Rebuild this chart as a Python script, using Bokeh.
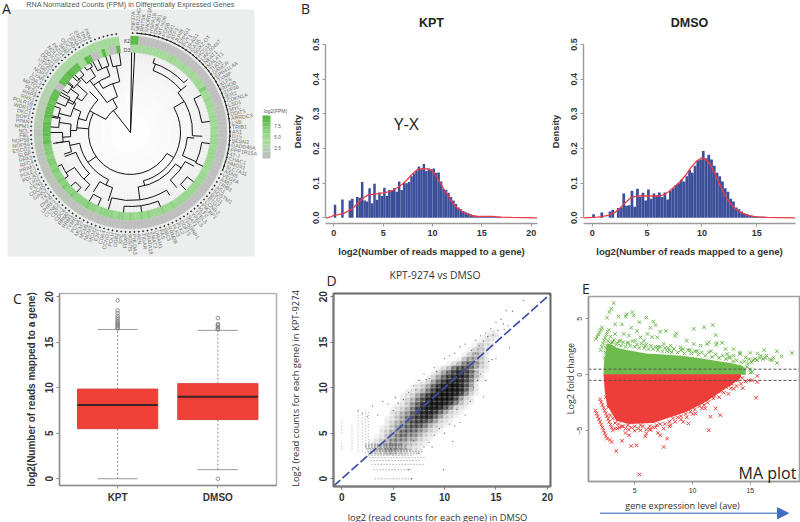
import math
from bokeh.plotting import figure
from bokeh.layouts import column, row
from bokeh.models import Label, Range1d, FixedTicker, Arrow, NormalHead, LinearColorMapper, ColumnDataSource
from bokeh.core.properties import value
from bokeh.embed import file_html
from bokeh.resources import INLINE

K2_X10 = [82,80,16,15,17,16,15,18,16,17,15,16,18,17,15,16,17,16,15,18,
16,17,15,16,18,16,15,17,16,15,18,17,16,15,17,16,18,15,16,17,
15,16,17,18,16,15,17,16,18,15,16,17,15,16,18,17,16,15,17,16,
18,16,15,17,18,16,20,18,19,17,20,18,19,21,18,20,19,21,20,18,
21,20,22,19,21,23,20,22,21,23,22,20,24,22,23,21,24,23,22,25,
23,24,26,24,25,27,26,25,28,27,29,30,28,31,30,32,31,33,32,34,
36,35,38,36,40,38,41,39,42,40,44,42,45,43,42,44,46,43,45,44]
D3_X10 = [44,42,45,46,43,47,44,46,48,45,47,49,46,44,48,50,47,45,49,46,
48,50,47,65,48,46,49,47,50,48,46,49,51,48,50,47,52,49,51,48,
50,52,49,51,53,50,48,52,50,53,51,49,52,50,54,51,53,50,52,55,
51,53,56,52,54,51,55,53,57,54,52,56,54,58,55,53,57,55,59,56,
54,58,56,60,57,55,59,57,61,58,56,60,58,62,59,57,61,59,63,60,
58,62,60,64,72,70,74,72,73,71,70,72,74,71,73,70,72,71,72,14,
15,74,76,74,78,76,75,72,46,44,78,75,13,14,44,78,44,14,13,78]
GENE_LABELS = """ZNF37A MIR22HG RN7SK SNORD3A HSPA1B DNAJB1 MT-ND6 FOSB EGR1 ATF3 JUNB SNHG1 PVT1 19-AS1 GAS5 SOX2-OT HCG18 LINC00467 NEAT1 MALAT1
TUG1 DANCR EPB41L4A TXNIP KLF6 RHOB ZFP36 IER2 CDKN1A LSD1 MYC DDIT3 ARRDC3 LSB TRIB1 AS1 D15 SESN2 GADD45A PPP1R15A 47-J CHAC1 HMOX1 SLC7A11 ASNS VEGFA A487
TRIB3 AS1 SQSTM1 BTG1 BTG2 CCNG2 PIK3IP1 KLF2 YPEL3 YPEL5 SAT1 TP53INP1 GDF15 PLK2 PLK3 RRM2B BBC3 FAS DRAM1 ZMAT3 SPATA18 TIGAR AEN PHLDA3 SUSD6 FDXR XPC DDB2 POLH
CCND1 CDK4 E2F1 MCM2 MCM3 MCM5 MCM7 PCNA TYMS RRM1 RRM2 CDC6 CDT1 CCNE2 UHRF1 DHFR TK1 GINS2 CDC45 FEN1 LIG1 POLA1 POLE2 PRIM1 RFC4 RPA3 SLBP ESCO2
NOP56 NOP58 FBL NCL NPM1 PPAN BOP1 DKC1 WDR12 POLR1B RRS1 RRP9 PES1 MRTO4 GNL3 LYAR NOP2 TSR1 UTP20 DDX21 DDX10 NOLC1 PA2G4 SRM ODC1 CAD LDHA ENO1 TPI1 PKM""".split()
LEGEND_LEVELS = [8.2,7.6,7.0,6.4,5.8,5.2,4.6,4.0,3.4,2.8,2.2,1.6]
RING_PALETTE = ["#bfbfbf","#bcc4ba","#b8ccb4","#b2d4ac","#aad8a2","#a4d99b","#9cd792","#90d285","#80cb73","#70c461","#63bd52","#5cb946"]
TREE_NODES = [(0,[(0.8,80),(3,80),(322,28)]),(28,[(298,42),(332,38)]),(38,[(322,60),(340,52)]),
(52,[(328,60),(348,68)]),(68,[(345,80),(352,80)]),(60,[(322,66),(340,70)]),(70,[(332,80),(336,80),(342,80)]),
(66,[(318,74),(328,76)]),(76,[(325,80),(330,80)]),(74,[(314,80),(321,80)]),(46,[(285,54),(315,58)]),
(58,[(303,64),(312,72)]),(72,[(308,80),(316,80)]),(64,[(296,70),(306,74)]),(74,[(302,80),(309,80)]),(70,[(292,80),(300,80)]),
(54,[(272,60),(293,62)]),(62,[(285,74),(298,80)]),(74,[(281,80),(289,80)]),(60,[(266,68),(278,72)]),(72,[(274,80),(282,80)]),(68,[(262,78),(270,80)]),
(42,[(120,50),(235,52),(275,54),(298,46)]),(52,[(205,58),(258,62)]),(62,[(252,70),(262,75)]),(58,[(225,66),(250,70)]),(66,[(218,74),(238,76)]),
(76,[(235,80),(245,80)]),(74,[(222,80),(228,80)]),(58,[(198,72),(212,70)]),(72,[(204,80),(211,80)]),
(50,[(60,62),(165,55)]),(55,[(125,62),(172,68)]),(68,[(148,74),(196,80)]),(74,[(172,80),(185,80),(158,80)]),(62,[(118,72),(140,72)]),(72,[(128,80),(136,80)]),
(62,[(50,66),(93,72)]),(72,[(62,80),(82,80)]),(66,[(20,73),(50,73)]),(73,[(18,78),(47,78)]),(57,[(95,64),(114,72)]),(72,[(98,80),(115,80)])]

KPT_DENSITY = [.038,0,0,.053,0,0,.05,.055,0,.06,.058,.103,.05,.047,.085,.042,.098,.052,.073,.063,.087,.063,.08,.08,.085,.075,.105,.08,.102,.1,.103,.12,.128,.135,.148,.14,.155,.135,.142,.14,.142,.13,.131,.105,.083,.08,.072,.06,.05,.04,.03,.025,.02,.016,.013,.01,.008,.006,.005,.004,.004,.004,.003,.003,.003,.003,.002,.002,.001,.001,.001,.0005]
DMSO_DENSITY = [.01,0,0,.015,0,0,.018,.023,0,.028,.03,.07,.035,.036,.078,.032,.084,.06,.072,.05,.082,.055,.07,.065,.073,.06,.073,.053,.077,.085,.095,.1,.11,.105,.12,.138,.13,.15,.165,.168,.193,.172,.182,.168,.15,.13,.12,.105,.085,.075,.055,.047,.03,.025,.018,.013,.01,.008,.006,.005,.004,.003,.003,.002,.002,.001,.001,.001,.0005]
KPT_CURVE_X = [-.8,-.3,0,.5,1,1.5,2,2.5,3,3.5,4,4.5,5,5.5,6,6.5,7,7.5,8,8.5,9,9.5,10,10.5,11,11.5,12,12.5,13,13.5,14,14.5,15,16,17,18,20.6]
KPT_CURVE_Y = [0,.003,.007,.009,.013,.02,.03,.044,.058,.066,.068,.07,.072,.075,.079,.088,.098,.112,.128,.14,.142,.141,.135,.115,.09,.067,.045,.028,.018,.011,.006,.004,.004,.004,.002,.001,0]
DMSO_CURVE_X = [-.8,0,.5,1,1.5,2,2.5,3,3.5,4,4.5,5,5.5,6,6.5,7,7.5,8,8.5,9,9.5,10,10.5,11,11.5,12,12.5,13,13.5,14,14.5,15,16,18.5]
DMSO_CURVE_Y = [0,.001,.002,.004,.008,.014,.027,.043,.058,.062,.063,.063,.063,.062,.066,.076,.09,.104,.122,.145,.163,.173,.165,.14,.105,.07,.045,.027,.016,.009,.005,.003,.001,0]

BOX_POS = [1,2]
BOX_NAMES = {1:"KPT",2:"DMSO"}
BOX_Q1 = [5.5,6.5]; BOX_MED = [8.1,9.0]; BOX_Q3 = [9.85,10.45]; BOX_LOW = [0,1]; BOX_HIGH = [16.4,16.3]
OUT_X = [1]*13+[2]*7
OUT_Y = [16.5,16.6,16.75,16.9,17.0,17.15,17.3,17.5,17.7,17.9,18.2,18.5,19.6,0,16.4,16.5,16.7,16.9,17.0,17.65]

DENSITY_ROWS = [(16,14.5,"11"),(15.5,14,"111"),(15,13.5,"111"),(14.5,13,"1211"),(14,12.5,"1221"),(13.5,12,"12321"),(13,11.5,"134321"),(12.5,10.5,"12355421"),(12,9.5,"1236765211"),(11.5,9,"1246787531"),(11,8.5,"12467887521"),(10.5,7.5,"112468998641"),(10,7,"1124689998631"),(9.5,6.5,"11235799998521"),(9,6,"11246899997421"),(8.5,6,"12357999986311"),(8,5.5,"11246899975211"),(7.5,5,"11235788864211"),(7,5,"1234678864211"),(6.5,4.5,"1123567764211"),(6,4.5,"123456653211"),(5.5,4,"112345543211"),(5,4,"12345443211"),(4.5,3.5,"11234433211"),(4,3,"11234332211"),(3.5,3,"1223332211"),(3,3,"1223322111")]
ROW_Y = [0,1,1.58,2,2.32,2.58,2.81,3,3.17,3.32,3.46,3.58,3.7,3.81]
ROW_X0 = [3.2,3.1,2.9,2.8,2.7,2.6,2.6,2.5,2.5,2.4,2.3,2.3,2.3,2.3]
ROW_X1 = [6.8,6.8,8,7.6,8.2,7,7.5,8,6.7,6.5,6.2,6.2,6,6]
COL_X = [0,0,1,1.58,2,2.32,2.58]
COL_Y0 = [3.2,5,3.2,3,3,2.8,2.6]
COL_Y1 = [4.2,6.4,6.2,7.5,7.2,7.5,7.5]
SPARSE_X = [4,5,5.5,6,6.5,7,7.2,7.5,8,8.2,8.5,9,9.2,10,10.5,11,11.5,13,13.5,14,14.5,15,15.5,16,16.6,15.7,16.3,15,14.3,14,13.8,13.5,12.8,12.5,12,11.5,11,10.5,10,9.9,9.5,9,8.5,8,7.5,7,10.8,6.8,6.5,3,3.5,2.5,4.5,5.2,2,1.6,8.8,11.2,12.9,13.2,14.6,13,12,17.7,14.2,14.7,15.2,15.8,16.2,13.4,13.8,12.6]
SPARSE_Y = [8.5,7.5,8.3,8.7,9.5,10.2,9.8,10.8,11.5,10.9,11,12.2,11.8,13.2,13.5,13.8,14.5,15.2,15.7,16,16.5,17.2,17.5,18.5,18.4,17,14.4,13.2,12.9,10.8,9,11.5,10,8.5,7,6.2,5.8,6,5,1,5.5,4.8,4,3.5,2.8,4.2,4.1,0,1,8,7,6.8,8.2,8.9,7.2,7.5,3.5,7.6,11.8,10.8,13.1,13.8,14.8,19.6,15.6,15.8,16.3,16.4,16.8,14.6,15.1,14.1]
IDENTITY_X = [-.8,20.3]

GREEN_X = [3.18,2.98,2.8,2.6,3.6,3.3,3.9,4.2,4.3,4.8,4.9,5.4,4.7,5.2,6,6.6,6.8,6.35,7.2,7.7,8.6,8.5,10.1,11,11.75,12,11.4,12.1,12.55,16.2,17.3,17.7,18.6,17,16.4,15.9,15.6,15,14.1,15.2,14.9,14.6,15.6,16.1,16.7,17.3,15.15,15,14.35,13.55,13,10.7,10.1,9.5,8.95,8.1,7.5,6.95,6.5,6.1,5.8,5.5,5.05,4.5,4.05,3.75,3.3,11.25,12.05,12.85,13.55,14.1,1.65,1.75,1.85,1.95,2.05,2.15,2.05,2.15,2.25,2.35,2.45,2.55,2.65,2.75,2.45,2.5,2.9,3.1,3.5,4.4,5.9,7,7.9,9.2,9.8,10.4,11.6,13.2,
3,3.2,3.4,3.6,3.8,4,4.2,4.4,4.6,4.8,5,5.2,5.4,5.6,5.8,6,6.2,6.4,6.6,6.8,7,7.2,7.4,7.6,7.8,8,8.2,8.4,8.7,9,9.3,9.6,9.9,10.2,10.5,10.8,11.1,11.4,11.7,12,12.3,12.6,12.9,13.2,13.5,13.8,14.2,14.5,14.8,15.1,15.4,15.8,16.3,16.9,14.7,15,2.4,2.5,2.6,2.7]
GREEN_Y = [6.4,5.9,5.6,5.1,5.2,4.5,4.5,5.2,5.4,5.6,5.3,4.7,4.2,3.9,5.1,4.75,4.45,4.2,3.85,3.9,3.7,3.45,4.1,4.25,4.45,3.55,2.9,2.85,2.85,2.2,2.1,1.65,1.95,1.55,1.7,1.7,1.9,1.95,1.85,1.3,1.4,1.55,1.3,1.4,1.35,1.05,.25,.5,.55,1.7,1.85,2.6,2.75,3.05,2.45,2.6,2.75,3.35,3.35,3.65,3.05,3.35,3.05,3.5,3.65,3.05,3.65,2.75,2.65,2.3,2.3,2,3.2,3.4,3.6,3.8,4,4.2,2.2,2.5,2.8,3.05,3.3,3.6,3.85,4,2,2.4,3.4,2.9,2.8,2.9,2.6,2.5,2.4,2.3,2.2,2.1,2.1,1.6,
2.9,3.1,2.7,3,2.6,2.9,2.5,2.8,2.6,3,2.5,2.7,2.4,2.8,2.4,2.7,2.3,2.6,2.3,2.5,2.2,2.5,2.1,2.4,2.1,2.2,2,2.3,2,2.2,1.9,2.2,1.9,2.1,1.8,2,1.7,2,1.6,1.8,1.5,1.7,1.4,1.5,1.2,1.3,1.1,1.2,1,1.1,1.4,1.5,1.5,1.3,.7,.2,1.5,1,2.6,3]
RED_X = [5.4,3.4,7.5,11.4,15.5,15.6,15.6,15.15,14.85,14.35,13.55,13.1,12.4,12,11.55,11.1,10.25,9.65,8.1,7.8,7.2,6,5.5,5.15,4.7,4.5,3.9,3,1.6,1.7,1.8,1.9,2,2.1,2.2,2.3,2.4,2.5,2.6,2,2.1,2.2,2.3,2.4,2.5,2.6,2.7,2.8,2.9,3,3.1,3.3,3.5,4,4.5,5,5.5,6.4,6.8,7.5,8.5,9,9.5,10,10.8,11.3,11.8,12.3,12.7,13.3,13.8,14.2,14.6,2.85,3.7,4.2,5.9,6.3,7,8,9.2,
2.5,2.7,2.9,3.1,3.3,3.6,3.9,4.2,4.4,4.7,5,5.3,5.7,6,6.3,6.6,6.9,7.2,7.6,8,8.3,8.7,9,9.4,9.8,10.2,10.6,11,11.4,11.9,12.4,12.9,13.4,13.9,14.3]
RED_Y = [-8.9,-6.8,-6.45,-4.95,-2.05,-.65,-.1,-.5,-.5,-1.2,-1.25,-1.7,-3.6,-3,-3.75,-3,-3.45,-4.35,-4.5,-5.7,-5.4,-5.25,-4.95,-6.3,-6.35,-5.4,-5.9,-6,-3.2,-3.45,-3.7,-3.95,-4.2,-4.45,-4.7,-4.95,-5.2,-5.45,-5.7,-2.2,-2.45,-2.7,-2.95,-3.2,-3.45,-3.7,-3.95,-4.2,-4.45,-4.7,-4.95,-4.8,-4.8,-4.6,-4.9,-4.6,-4.5,-4.9,-4.7,-4.8,-4.2,-4,-3.8,-3.5,-3,-2.5,-2.1,-2,-1.6,-1.2,-1,-.8,-.6,-5.8,-4.7,-5.2,-5.5,-4.9,-5.2,-4.6,-4.2,
-2,-2.9,-3.6,-3.9,-4.3,-4.4,-4.6,-4.8,-4.5,-4.7,-5,-4.8,-4.6,-4.9,-4.6,-4.7,-4.5,-4.4,-4.4,-4.2,-3.9,-3.8,-3.7,-3.5,-3.3,-3.1,-2.8,-2.7,-2.2,-1.9,-1.5,-1.1,-.8,-.5,-.3]
GREEN_BAND_X = [2.3,2.35,2.6,3,3.5,4.4,6,7.5,9,10.5,12,13.5,14.3,14.6,14.6,2.3]
GREEN_BAND_Y = [0,1.2,2.8,2.7,2.4,2.2,1.9,1.8,1.7,1.5,1.25,1,.8,.5,0,0]
RED_BAND_X = [2.3,2.4,2.6,3.4,4.5,6.6,9.5,11,12.3,13.4,14.2,14.2,2.3]
RED_BAND_Y = [.05,-1.4,-2.7,-4.1,-4.4,-4.3,-3.3,-2.5,-1.6,-.9,-.2,.05,.05]
MA_THRESHOLDS = [.5,-.5]
MA_ARROW_X = [2,18.3]

SANS = "Liberation Sans"; CAL = "Open Sans"

def panel(fl, ft, fr, fb, L, T, R, B, xr, yr):
    sx = (xr[1]-xr[0])/(R-L); sy = (yr[1]-yr[0])/(B-T)
    X = (xr[0]-(L-fl)*sx, xr[1]+(fr-R)*sx); Y = (yr[0]-(fb-B)*sy, yr[1]+(T-ft)*sy)
    p = figure(width=fr-fl, height=fb-ft, x_range=Range1d(*X), y_range=Range1d(*Y), output_backend="svg",
               toolbar_location=None, min_border=0, outline_line_color=None, background_fill_color="white",
               border_fill_color="white", frame_align=False)
    p.xaxis.fixed_location = yr[0]; p.yaxis.fixed_location = xr[0]
    p.xaxis.bounds = xr; p.yaxis.bounds = yr
    p.grid.visible = False
    return p

def box(p, xr, yr, color, width):
    p.quad(left=[xr[0]],right=[xr[1]],bottom=[yr[0]],top=[yr[1]],fill_color=None,line_color=color,line_width=width)

def labeler(p, fl, fb):
    def put(s, x, y, size, font=SANS, style="normal", color="#333333", align="center", angle=0):
        p.add_layout(Label(x=x-fl, y=fb-y, x_units="screen", y_units="screen", text=s, text_font_size=f"{size}px",
                           text_font=font, text_font_style=style, text_color=color, text_align=align,
                           text_baseline="middle", angle=angle, angle_units="rad"))
    return put

def style(p, xt, yt, size=9, bold="bold", line="#9a9a9a"):
    p.xaxis.ticker = FixedTicker(ticks=xt); p.yaxis.ticker = FixedTicker(ticks=yt)
    for ax in (p.xaxis[0], p.yaxis[0]):
        ax.minor_tick_line_color = None; ax.major_tick_in = 0; ax.major_tick_out = 3
        ax.axis_line_color = line; ax.major_tick_line_color = line; ax.axis_line_width = 1.4
        ax.major_label_text_font = SANS; ax.major_label_text_font_size = f"{size}px"
        ax.major_label_text_font_style = bold; ax.major_label_text_color = "#333333"
        ax.major_label_standoff = 3
    p.yaxis.major_label_orientation = "vertical"

def xy(deg, r):
    t = math.radians(90-deg); return r*math.cos(t), r*math.sin(t)

# ---------- A
A = panel(0,0,290,265, 0,0,290,265, (-130,160), (-133,132)); A.axis.visible = False
A.quad(left=[-123],right=[124],top=[123],bottom=[-124],fill_color="#eceeed",line_color=None)
n = len(K2_X10); STEP = 353/n
sp = [xy((i+.5)*STEP,20) for i in range(n)]; sq = [xy((i+.5)*STEP,80) for i in range(n)]
A.segment([a[0] for a in sp],[a[1] for a in sp],[a[0] for a in sq],[a[1] for a in sq],line_color="#dcdcdc",line_width=.5)
for rad, alp in [(79,.25),(70,.25),(60,.25),(50,.25),(40,.3),(30,.3),(20,.3),(10,.3)]:
    A.circle(x=[0],y=[0],radius=[rad],fill_color="white",fill_alpha=alp,line_color=None)
cm = LinearColorMapper(palette=RING_PALETTE, low=1.5, high=8.2)
for vals, r0, r1 in [(D3_X10,80,88),(K2_X10,88,96.5)]:
    src = ColumnDataSource(dict(v=[q/10 for q in vals], s=[math.radians(90-(i+1)*STEP) for i in range(n)], e=[math.radians(90-i*STEP) for i in range(n)]))
    A.annular_wedge(x=0,y=0,inner_radius=r0,outer_radius=r1,start_angle="s",end_angle="e",source=src,
                    fill_color={"field":"v","transform":cm},line_color={"field":"v","transform":cm},line_width=.2)
arc_r,arc_s,arc_e,sx0,sy0,sx1,sy1 = [],[],[],[],[],[],[]
for r,stems in TREE_NODES:
    ang = [s[0] for s in stems]
    if r>0:
        arc_r.append(r); arc_s.append(math.radians(90-max(ang))); arc_e.append(math.radians(90-min(ang)))
    for a,ro in stems:
        x0,y0 = xy(a,r); x1,y1 = xy(a,ro); sx0.append(x0); sy0.append(y0); sx1.append(x1); sy1.append(y1)
A.segment(sx0,sy0,sx1,sy1,line_color="#111111",line_width=1)
A.arc(x=0,y=0,radius=arc_r,start_angle=arc_s,end_angle=arc_e,line_color="#111111",line_width=1)
A.arc(x=[0],y=[0],radius=[99.5],start_angle=[math.radians(90-112)],end_angle=[math.radians(90-4)],line_color="#111111",line_width=1)
rim = [xy((i+.5)*STEP,99.5) for i in range(n)]
A.scatter([a[0] for a in rim],[a[1] for a in rim],size=1.1,color="#333333")
rt = dict(x=[],y=[],t=[],a=[]); lf = dict(x=[],y=[],t=[],a=[])
for i,name in enumerate(GENE_LABELS[:n]):
    d = (i+.5)*STEP; x,y = xy(d,101.5)
    tgt = rt if d<180 else lf
    tgt["x"].append(x); tgt["y"].append(y); tgt["t"].append(name)
    tgt["a"].append(math.radians(90-d) if d<180 else math.radians(270-d))
A.text("x","y",text="t",angle="a",source=ColumnDataSource(rt),text_font_size="5.3px",text_font=value(SANS),text_color="#6e6e6e",text_align="left",text_baseline="middle")
A.text("x","y",text="t",angle="a",source=ColumnDataSource(lf),text_font_size="5.3px",text_font=value(SANS),text_color="#6e6e6e",text_align="right",text_baseline="middle")
A.text([-3.5,-3.5],[92,83],text=["K2","D3"],text_font_size="5px",text_font=value(SANS),text_color="#444444",text_align="center",text_baseline="middle")
lv = len(LEGEND_LEVELS); seg = 43/lv
lsrc = ColumnDataSource(dict(l=[132]*lv,r=[140]*lv,t=[17-i*seg for i in range(lv)],b=[17-(i+1)*seg for i in range(lv)],v=LEGEND_LEVELS))
A.quad(left="l",right="r",top="t",bottom="b",source=lsrc,fill_color={"field":"v","transform":cm},line_color=None)
a = labeler(A,0,265)
a("RNA Normalized Counts (FPM) in Differentially Expressed Genes",130,3.5,7.2,color="#555555")
a("A",6,8,14,font=CAL,color="#222222")
a("log2(FPM)",275,110,5,color="#555555")
for s,yy in [("7.5",125),("5.0",136),("2.5",147)]:
    a(s,277,yy,4.6,color="#555555")

# ---------- B
def hist(fl,fr,L,R,x0,scale,vals,cx,cy,title,ticks,ylab_x):
    xr = ((L-x0)/scale,(R-x0)/scale); yr = (-.0164,.5115)
    p = panel(fl,0,fr,265, L,40,R,223, xr, yr)
    style(p,ticks,[0,.1,.2,.3,.4,.5])
    p.yaxis.bounds = (0,.5)
    p.yaxis.major_label_overrides = {0:"0.0",.1:"0.1",.2:"0.2",.3:"0.3",.4:"0.4",.5:"0.5"}
    p.vbar(x=[i*.25+.125 for i in range(len(vals))],top=vals,width=.25,bottom=0,fill_color="#3b4e99",line_color=None)
    p.line(cx,cy,line_color="#ee3a45",line_width=1.3)
    t = labeler(p,fl,265)
    t(title,(L+R)/2,22,12.5,style="bold",color="#222222")
    t("log2(Number of reads mapped to a gene)",(L+R)/2,251,9.6,style="bold",color="#333333")
    t("Density",ylab_x,131,9.3,style="bold",color="#333333",angle=math.pi/2)
    return p,t
B1,tb = hist(290,540,325,537,333.3,9.87,KPT_DENSITY,KPT_CURVE_X,KPT_CURVE_Y,"KPT",[0,5,10,15,20],297)
tb("B",305,8,14,font=CAL,color="#222222")
tb("Y-X",406,123,17,font=CAL,color="#222222")
B2,_ = hist(540,800,583,795,591.7,10.97,DMSO_DENSITY,DMSO_CURVE_X,DMSO_CURVE_Y,"DMSO",[0,5,10,15],555)

# ---------- C
CX = (.42,2.585); CY = (-.74,20.35)
C = panel(0,265,290,522, 59,293,276,485, CX, CY)
style(C,BOX_POS,[0,5,10,15,20],size=10,line="#8f8f8f")
C.xaxis.major_label_overrides = BOX_NAMES
C.segment(BOX_POS,BOX_Q3,BOX_POS,BOX_HIGH,line_color="#8a8a8a",line_dash="2 2",line_width=1)
C.segment(BOX_POS,BOX_LOW,BOX_POS,BOX_Q1,line_color="#8a8a8a",line_dash="2 2",line_width=1)
C.segment([q-.2 for q in BOX_POS],BOX_HIGH,[q+.2 for q in BOX_POS],BOX_HIGH,line_color="#9a9a9a",line_width=1)
C.segment([q-.2 for q in BOX_POS],BOX_LOW,[q+.2 for q in BOX_POS],BOX_LOW,line_color="#9a9a9a",line_width=1)
C.vbar(x=BOX_POS,width=.8,bottom=BOX_Q1,top=BOX_Q3,fill_color="#ee4037",line_color="#d8453d",line_width=1)
C.segment([q-.4 for q in BOX_POS],BOX_MED,[q+.4 for q in BOX_POS],BOX_MED,line_color="#3a2626",line_width=2)
C.scatter(OUT_X,OUT_Y,marker="circle",size=3.6,fill_color=None,line_color="#777777",line_width=.8)
box(C,CX,CY,"#b4b4b4",1.6)
c = labeler(C,0,522)
c("log2(Number of reads mapped to a gene)",31,389,10,style="bold",color="#333333",angle=math.pi/2)
c("C",17,298,14,font=CAL,color="#222222")

# ---------- D
DX = (-.8,20.3); DY = (-.85,20.35)
D = panel(290,265,560,522, 333,293,550,486, DX, DY)
style(D,[0,5,10,15,20],[0,5,10,15,20],size=10,line="#777777")
gx,gy,ga = [],[],[]
for y,x0,digits in DENSITY_ROWS:
    for i,ch in enumerate(digits):
        gx.append(x0+i*.5); gy.append(y); ga.append(.62*(int(ch)/9)**1.15)
D.scatter(gx,gy,marker="circle",size=8,fill_color="black",fill_alpha=ga,line_color=None)
D.segment(ROW_X0,ROW_Y,ROW_X1,ROW_Y,line_color="#444444",line_width=.9,line_dash="1 2",line_alpha=.7)
D.segment(COL_X,COL_Y0,COL_X,COL_Y1,line_color="#777777",line_width=.9,line_dash="1 2",line_alpha=.7)
D.scatter(SPARSE_X,SPARSE_Y,marker="circle",size=1.3,fill_color="#333333",fill_alpha=.7,line_color=None)
D.line(IDENTITY_X,IDENTITY_X,line_color="#3d50a8",line_width=1.7,line_dash="9 3")
box(D,DX,DY,"#666666",2)
d = labeler(D,290,522)
d("KPT-9274 vs DMSO",434.5,274,10.3,font=CAL,color="#333333")
d("log2 (read counts for each gene) in DMSO",437,516.5,9.3,font=CAL,color="#333333")
d("Log2 (read counts for each gene) in KPT-9274",295,388,9.4,font=CAL,color="#333333",angle=math.pi/2)
d("D",331,280,14,font=CAL,color="#222222")

# ---------- E
EX = (1.0,19.25); EY = (-9.53,6.99)
E = panel(560,265,800,522, 588,296,799,481, EX, EY)
style(E,[5,10,15],[-5,0,5],size=7,bold="normal",line="#9a9a9a")
E.patch(GREEN_BAND_X,GREEN_BAND_Y,fill_color="#6dbb4d",line_color=None)
E.patch(RED_BAND_X,RED_BAND_Y,fill_color="#ee3e3a",line_color=None)
E.scatter(GREEN_X,GREEN_Y,marker="x",size=5,line_color="#6dbb4d",line_width=1)
E.scatter(RED_X,RED_Y,marker="x",size=5,line_color="#ee3e3a",line_width=1)
for v in MA_THRESHOLDS:
    E.line(list(EX),[v,v],line_color="#555555",line_width=1,line_dash="3 2")
box(E,EX,EY,"#a0a0a0",1.6)
e = labeler(E,560,522)
e("Log2 fold change",570,378,9,font=CAL,color="#333333",angle=math.pi/2)
e("gene expression level (ave)",682,505,9.2,font=CAL,color="#333333")
e("MA plot",767,472,16,font=CAL,color="#222222")
e("E",585.5,288,14,font=CAL,color="#222222")
E.add_layout(Arrow(end=NormalHead(size=11,fill_color="#3f6fc0",line_color="#3f6fc0"),x_start=MA_ARROW_X[0],y_start=-12.36,x_end=MA_ARROW_X[1],y_end=-12.36,line_color="#6f93cf",line_width=1.5))

page = column(row(A,B1,B2,spacing=0),row(C,D,E,spacing=0),spacing=0)
open("out.html","w").write(file_html(page,INLINE))
